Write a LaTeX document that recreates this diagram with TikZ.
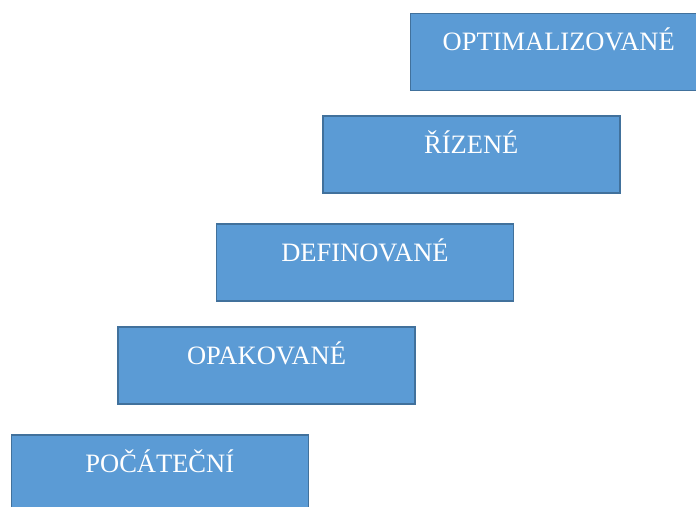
\documentclass[tikz,border=0pt]{standalone}
\usepackage{fontspec}
\setmainfont{Liberation Serif}
\definecolor{boxfill}{HTML}{5B9BD5}
\definecolor{boxline}{HTML}{41719C}
\tikzset{
  levelbox/.style={draw=boxline, fill=boxfill, line width=1.5pt, rectangle,
    minimum width=297pt, minimum height=77pt, anchor=north west, inner sep=0pt},
  leveltext/.style={text=white, font=\fontsize{26.5}{31}\selectfont, anchor=base, inner sep=0pt}
}
\begin{document}
\begin{tikzpicture}[x=1pt,y=-1pt]
\useasboundingbox (0,0) rectangle (696,506);
\clip (0,0) rectangle (696,506);
\node[levelbox] (b5) at (409.5,12.7) {};
\node[levelbox] (b4) at (322,115) {};
\node[levelbox] (b3) at (215.7,223.3) {};
\node[levelbox] (b2) at (117.3,326.3) {};
\node[levelbox] (b1) at (10.5,434) {};
\node[leveltext] (t5) at ([yshift=-38pt]b5.north) {OPTIMALIZOVANÉ};
\node[leveltext] (t4) at ([yshift=-38pt]b4.north) {ŘÍZENÉ};
\node[leveltext] (t3) at ([yshift=-38pt]b3.north) {DEFINOVANÉ};
\node[leveltext] (t2) at ([yshift=-38pt]b2.north) {OPAKOVANÉ};
\node[leveltext] (t1) at ([yshift=-38pt]b1.north) {POČÁTEČNÍ};
\end{tikzpicture}
\end{document}
